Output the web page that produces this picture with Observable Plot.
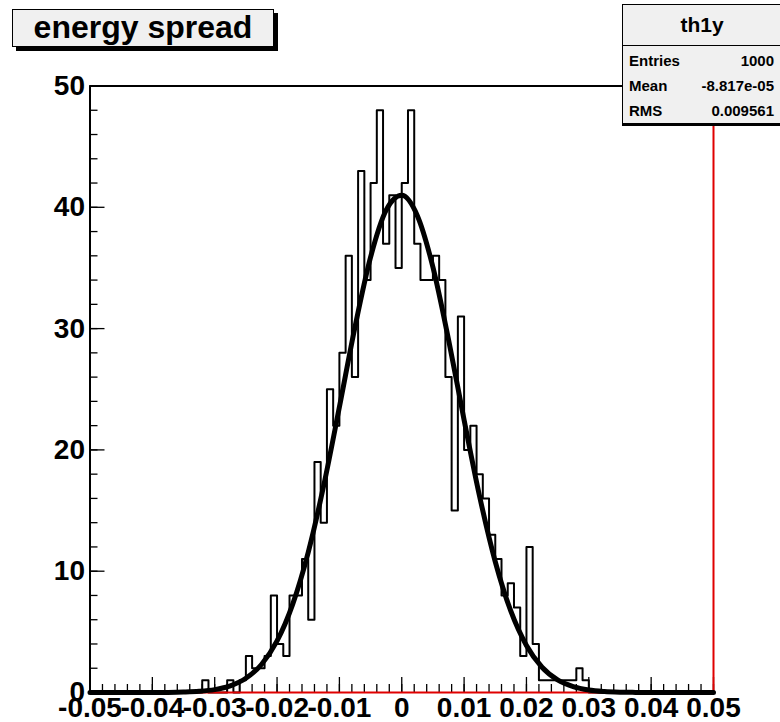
<!DOCTYPE html>
<html>
<head>
<meta charset="utf-8">
<script src="https://cdn.jsdelivr.net/npm/d3@7"></script>
<script src="https://cdn.jsdelivr.net/npm/@observablehq/plot@0.6"></script>
<style>
  body { margin: 0; background: #fff; }
  #canvas { position: relative; width: 780px; height: 722px; overflow: hidden;
            font-family: "Liberation Sans", Arial, Helvetica, sans-serif; font-weight: bold; }
  #chart { position: absolute; left: 0; top: 0; }
  .title { position: absolute; left: 12px; top: 9px; width: 260px; height: 36px;
           background: #f0f0f0; border: 1px solid #000; box-shadow: 4px 4px 0 #000;
           font-size: 32px; line-height: 35px; text-align: center; }
  .stats { position: absolute; left: 622px; top: 4px; width: 170px; height: 118px;
           background: #f0f0f0; border: 1px solid #000; box-shadow: 0 2px 0 #000; font-size: 15px; }
  .stats .head { height: 40px; line-height: 40px; border-bottom: 1px solid #000;
                 font-size: 21px; text-align: center; padding-right: 12px; }
  .stats .row { position: absolute; left: 0; right: 0; height: 26px; line-height: 26px; padding-left: 6px; }
  .stats .row span { position: absolute; right: 19px; }
</style>
</head>
<body>
<div id="canvas">
  <div id="chart"></div>
  <div class="title">energy spread</div>
  <div class="stats">
    <div class="head">th1y</div>
    <div class="row" style="top:43px">Entries<span>1000</span></div>
    <div class="row" style="top:68px">Mean<span>-8.817e-05</span></div>
    <div class="row" style="top:93px">RMS<span>0.009561</span></div>
  </div>
</div>
<script>
// Histogram definition: 100 bins on [-0.05, 0.05]
const xMin = -0.05;
const xMax = 0.05;
const nBins = 100;
const binWidth = (xMax - xMin) / nBins;

// Contents of bins 18..79 (all other bins are empty)
const firstBin = 18;
const binCounts = [
  1, 0, 0, 0, 1, 0, 1, 3, 2, 2,
  3, 8, 4, 3, 8, 8, 11, 6, 19, 14,
  25, 22, 28, 36, 26, 43, 34, 42, 48, 37,
  41, 35, 42, 48, 37, 34, 34, 36, 34, 26,
  15, 31, 20, 22, 18, 16, 13, 11, 8, 9,
  7, 3, 12, 4, 1, 1, 1, 1, 1, 1,
  2, 1
];

// Gaussian fit curve, sampled along the axis
const fitX = [-0.05, -0.0475, -0.045, -0.0425, -0.04, -0.0375, -0.035, -0.0325, -0.03, -0.0275,
  -0.025, -0.0225, -0.02, -0.0175, -0.015, -0.0125, -0.01, -0.0075, -0.005, -0.0025,
  0, 0.0025, 0.005, 0.0075, 0.01, 0.0125, 0.015, 0.0175, 0.02, 0.0225,
  0.025, 0.0275, 0.03, 0.0325, 0.035, 0.0375, 0.04, 0.0425, 0.045, 0.0475, 0.05];
const fitY = [0, 0, 0, 0, 0, 0.01, 0.04, 0.1, 0.24, 0.55,
  1.17, 2.31, 4.25, 7.27, 11.56, 17.1, 23.53, 30.13, 35.89, 39.77,
  40.99, 39.31, 35.07, 29.1, 22.47, 16.14, 10.78, 6.7, 3.88, 2.08,
  1.04, 0.49, 0.21, 0.085, 0.03, 0.01, 0, 0, 0, 0, 0];

// Axis ticks
const yLabels = [0, 10, 20, 30, 40, 50];
const yMinor = d3.range(0, 50.001, 2);
const xLabels = [-0.05, -0.04, -0.03, -0.02, -0.01, 0, 0.01, 0.02, 0.03, 0.04, 0.05];
const xMinor = d3.range(-25, 26).map(k => k * 0.002);

// ---- derived tables ----
const counts = new Array(nBins).fill(0);
binCounts.forEach((c, i) => counts[firstBin + i] = c);
const steps = counts.map((c, i) => ({x: xMin + i * binWidth, y: c}));
steps.push({x: xMax, y: counts[nBins - 1]});
const fit = fitX.map((x, i) => ({x, y: fitY[i]}));

const W = 780, H = 722;
const mL = 89.5, mR = 67, mT = 85.5, mB = 30;
const pxY = 50 / (H - mT - mB);        // y units per pixel
const pxX = (xMax - xMin) / (W - mL - mR); // x units per pixel
const majorLen = 15, minorLen = 8;

const fmtX = d => d === 0 ? "0" : d.toFixed(2);
const font = {fontSize: 28, fontWeight: "bold", label: null};

const chart = Plot.plot({
  width: W, height: H,
  marginLeft: mL, marginRight: mR, marginTop: mT, marginBottom: mB,
  style: {fontFamily: '"Liberation Sans", Arial, Helvetica, sans-serif', background: "transparent", overflow: "visible"},
  x: {domain: [xMin, xMax], label: null},
  y: {domain: [0, 50], label: null},
  marks: [
    // histogram outline
    Plot.line(steps, {x: "x", y: "y", curve: "step-after", stroke: "#000", strokeWidth: 2}),
    // x ticks (inside the frame)
    Plot.ruleX(xMinor, {x: d => d, y1: 0, y2: minorLen * pxY, stroke: "#000", strokeWidth: 1.3}),
    Plot.ruleX(xLabels, {x: d => d, y1: 0, y2: majorLen * pxY, stroke: "#000", strokeWidth: 1.3}),
    // y ticks
    Plot.ruleY(yMinor, {y: d => d, x1: xMin, x2: xMin + minorLen * pxX, stroke: "#000", strokeWidth: 1.3}),
    Plot.ruleY(yLabels, {y: d => d, x1: xMin, x2: xMin + majorLen * pxX, stroke: "#000", strokeWidth: 1.3}),
    // frame
    Plot.ruleY([0], {x1: xMin, x2: xMax, stroke: "#e00000", strokeWidth: 2}),
    Plot.ruleX([xMax], {y1: 0, y2: 50, stroke: "#e00000", strokeWidth: 2}),
    Plot.ruleY([50], {x1: xMin, x2: xMax, stroke: "#000", strokeWidth: 2}),
    Plot.ruleX([xMin], {y1: 0, y2: 50, stroke: "#000", strokeWidth: 2}),
    // fit
    Plot.line(fit, {x: "x", y: "y", curve: "monotone-x", stroke: "#000", strokeWidth: 5}),
    // labels
    Plot.axisY(yLabels, {tickSize: 0, tickPadding: 5, ...font}),
    Plot.axisX(xLabels, {tickSize: 0, tickPadding: 5, tickFormat: fmtX, ...font})
  ]
});
document.getElementById("chart").appendChild(chart);
</script>
</body>
</html>
